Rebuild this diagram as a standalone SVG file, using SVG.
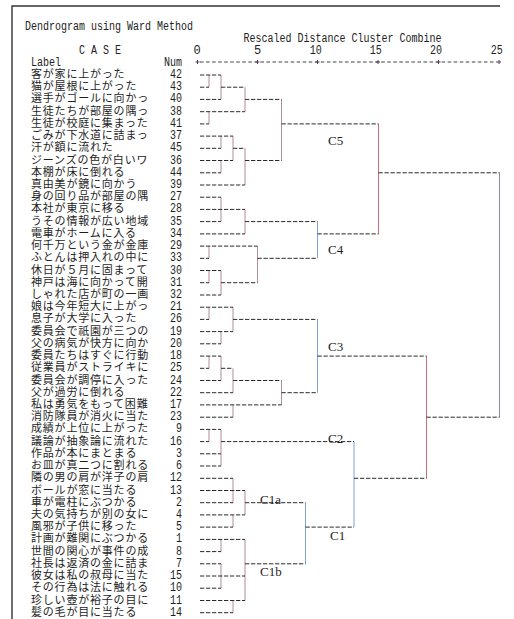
<svg xmlns="http://www.w3.org/2000/svg" width="514" height="619" viewBox="0 0 514 619">
<style>
.bg{fill:#ffffff}
.frame{stroke:#333;stroke-width:1.4;fill:none}
.hd{font-family:"Liberation Mono","DejaVu Sans Mono",monospace;font-size:12px;fill:#222}
.lb{font-family:"Noto Sans CJK JP","Noto Sans",sans-serif;font-size:11px;letter-spacing:0.8px;fill:#1e1e1e}
.nm{font-family:"Liberation Mono","DejaVu Sans Mono",monospace;font-size:12px;fill:#1e1e1e;text-anchor:end}
.cl{font-family:"Liberation Serif","Times New Roman",serif;font-size:13px;fill:#1e1e1e}
.h{stroke:#2a2a2a;stroke-width:1;stroke-dasharray:4.3 1.7;fill:none}
.v{stroke:#b08c94;stroke-width:1;fill:none}
.vp{stroke:#c9707a;stroke-width:1;fill:none}
.vb{stroke:#7fa4cf;stroke-width:1;fill:none}
.vu{stroke:#8a86b0;stroke-width:1;fill:none}
.ax{stroke:#444;stroke-width:1;stroke-dasharray:3.6 2.44;fill:none}
.tk{stroke:#5a3a5a;stroke-width:1;fill:none}
</style>
<rect class="bg" x="0" y="0" width="514" height="619"/>
<path class="frame" d="M12,619 V6 H500"/>

<g id="header">
<text class="hd" x="25" y="29.5" textLength="168" lengthAdjust="spacingAndGlyphs">Dendrogram using Ward Method</text>
<text class="hd" x="243.5" y="42" textLength="198" lengthAdjust="spacingAndGlyphs">Rescaled Distance Cluster Combine</text>
<text class="hd" x="79" y="54" textLength="42" lengthAdjust="spacingAndGlyphs">C A S E</text>
<text class="hd" x="31" y="66" textLength="30" lengthAdjust="spacingAndGlyphs">Label</text>
<text class="hd" x="182" y="66" text-anchor="end" textLength="18" lengthAdjust="spacingAndGlyphs">Num</text>
</g>

<g id="axis">
<text class="hd" x="197" y="54" text-anchor="middle">0</text>
<text class="hd" x="257.5" y="54" text-anchor="middle">5</text>
<text class="hd" x="315.7" y="54" text-anchor="middle" textLength="12" lengthAdjust="spacingAndGlyphs">10</text>
<text class="hd" x="375.7" y="54" text-anchor="middle" textLength="12" lengthAdjust="spacingAndGlyphs">15</text>
<text class="hd" x="436" y="54" text-anchor="middle" textLength="12" lengthAdjust="spacingAndGlyphs">20</text>
<text class="hd" x="496.7" y="54" text-anchor="middle" textLength="12" lengthAdjust="spacingAndGlyphs">25</text>
<path class="ax" d="M200,62 H497"/>
<path class="tk" d="M195.5,62 H199.5 M197.5,60 V64 M255.5,62 H259.5 M257.5,60 V64 M315.5,62 H319.5 M317.5,60 V64 M376,62 H380 M378,60 V64 M436.5,62 H440.5 M438.5,60 V64 M497,62 H501 M499,60 V64"/>
</g>

<g id="leaves">
<g id="n42"><text class="lb" x="31" y="78">客が家に上がった</text><text class="nm" x="182" y="78" textLength="12" lengthAdjust="spacingAndGlyphs">42</text></g>
<g id="n43"><text class="lb" x="31" y="90.2">猫が屋根に上がった</text><text class="nm" x="182" y="90.2" textLength="12" lengthAdjust="spacingAndGlyphs">43</text></g>
<g id="n40"><text class="lb" x="31" y="102.4">選手がゴールに向かっ</text><text class="nm" x="182" y="102.4" textLength="12" lengthAdjust="spacingAndGlyphs">40</text></g>
<g id="n38"><text class="lb" x="31" y="114.7">生徒たちが部屋の隅っ</text><text class="nm" x="182" y="114.7" textLength="12" lengthAdjust="spacingAndGlyphs">38</text></g>
<g id="n41"><text class="lb" x="31" y="126.9">生徒が校庭に集まった</text><text class="nm" x="182" y="126.9" textLength="12" lengthAdjust="spacingAndGlyphs">41</text></g>
<g id="n37"><text class="lb" x="31" y="139.1">ごみが下水道に詰まっ</text><text class="nm" x="182" y="139.1" textLength="12" lengthAdjust="spacingAndGlyphs">37</text></g>
<g id="n45"><text class="lb" x="31" y="151.3">汗が額に流れた</text><text class="nm" x="182" y="151.3" textLength="12" lengthAdjust="spacingAndGlyphs">45</text></g>
<g id="n36"><text class="lb" x="31" y="163.5">ジーンズの色が白いワ</text><text class="nm" x="182" y="163.5" textLength="12" lengthAdjust="spacingAndGlyphs">36</text></g>
<g id="n44"><text class="lb" x="31" y="175.8">本棚が床に倒れる</text><text class="nm" x="182" y="175.8" textLength="12" lengthAdjust="spacingAndGlyphs">44</text></g>
<g id="n39"><text class="lb" x="31" y="188">真由美が鏡に向かう</text><text class="nm" x="182" y="188" textLength="12" lengthAdjust="spacingAndGlyphs">39</text></g>
<g id="n27"><text class="lb" x="31" y="200.2">身の回り品が部屋の隅</text><text class="nm" x="182" y="200.2" textLength="12" lengthAdjust="spacingAndGlyphs">27</text></g>
<g id="n28"><text class="lb" x="31" y="212.4">本社が東京に移る</text><text class="nm" x="182" y="212.4" textLength="12" lengthAdjust="spacingAndGlyphs">28</text></g>
<g id="n35"><text class="lb" x="31" y="224.6">うその情報が広い地域</text><text class="nm" x="182" y="224.6" textLength="12" lengthAdjust="spacingAndGlyphs">35</text></g>
<g id="n34"><text class="lb" x="31" y="236.9">電車がホームに入る</text><text class="nm" x="182" y="236.9" textLength="12" lengthAdjust="spacingAndGlyphs">34</text></g>
<g id="n29"><text class="lb" x="31" y="249.1">何千万という金が金庫</text><text class="nm" x="182" y="249.1" textLength="12" lengthAdjust="spacingAndGlyphs">29</text></g>
<g id="n33"><text class="lb" x="31" y="261.3">ふとんは押入れの中に</text><text class="nm" x="182" y="261.3" textLength="12" lengthAdjust="spacingAndGlyphs">33</text></g>
<g id="n30"><text class="lb" x="31" y="273.5">休日が５月に固まって</text><text class="nm" x="182" y="273.5" textLength="12" lengthAdjust="spacingAndGlyphs">30</text></g>
<g id="n31"><text class="lb" x="31" y="285.7">神戸は海に向かって開</text><text class="nm" x="182" y="285.7" textLength="12" lengthAdjust="spacingAndGlyphs">31</text></g>
<g id="n32"><text class="lb" x="31" y="298">しゃれた店が町の一画</text><text class="nm" x="182" y="298" textLength="12" lengthAdjust="spacingAndGlyphs">32</text></g>
<g id="n21"><text class="lb" x="31" y="310.2">娘は今年短大に上がっ</text><text class="nm" x="182" y="310.2" textLength="12" lengthAdjust="spacingAndGlyphs">21</text></g>
<g id="n26"><text class="lb" x="31" y="322.4">息子が大学に入った</text><text class="nm" x="182" y="322.4" textLength="12" lengthAdjust="spacingAndGlyphs">26</text></g>
<g id="n19"><text class="lb" x="31" y="334.6">委員会で祇園が三つの</text><text class="nm" x="182" y="334.6" textLength="12" lengthAdjust="spacingAndGlyphs">19</text></g>
<g id="n20"><text class="lb" x="31" y="346.8">父の病気が快方に向か</text><text class="nm" x="182" y="346.8" textLength="12" lengthAdjust="spacingAndGlyphs">20</text></g>
<g id="n18"><text class="lb" x="31" y="359.1">委員たちはすぐに行動</text><text class="nm" x="182" y="359.1" textLength="12" lengthAdjust="spacingAndGlyphs">18</text></g>
<g id="n25"><text class="lb" x="31" y="371.3">従業員がストライキに</text><text class="nm" x="182" y="371.3" textLength="12" lengthAdjust="spacingAndGlyphs">25</text></g>
<g id="n24"><text class="lb" x="31" y="383.5">委員会が調停に入った</text><text class="nm" x="182" y="383.5" textLength="12" lengthAdjust="spacingAndGlyphs">24</text></g>
<g id="n22"><text class="lb" x="31" y="395.7">父が過労に倒れる</text><text class="nm" x="182" y="395.7" textLength="12" lengthAdjust="spacingAndGlyphs">22</text></g>
<g id="n17"><text class="lb" x="31" y="407.9">私は勇気をもって困難</text><text class="nm" x="182" y="407.9" textLength="12" lengthAdjust="spacingAndGlyphs">17</text></g>
<g id="n23"><text class="lb" x="31" y="420.2">消防隊員が消火に当た</text><text class="nm" x="182" y="420.2" textLength="12" lengthAdjust="spacingAndGlyphs">23</text></g>
<g id="n9"><text class="lb" x="31" y="432.4">成績が上位に上がった</text><text class="nm" x="182" y="432.4" textLength="6" lengthAdjust="spacingAndGlyphs">9</text></g>
<g id="n16"><text class="lb" x="31" y="444.6">議論が抽象論に流れた</text><text class="nm" x="182" y="444.6" textLength="12" lengthAdjust="spacingAndGlyphs">16</text></g>
<g id="n3"><text class="lb" x="31" y="456.8">作品が本にまとまる</text><text class="nm" x="182" y="456.8" textLength="6" lengthAdjust="spacingAndGlyphs">3</text></g>
<g id="n6"><text class="lb" x="31" y="469">お皿が真二つに割れる</text><text class="nm" x="182" y="469" textLength="6" lengthAdjust="spacingAndGlyphs">6</text></g>
<g id="n12"><text class="lb" x="31" y="481.3">隣の男の肩が洋子の肩</text><text class="nm" x="182" y="481.3" textLength="12" lengthAdjust="spacingAndGlyphs">12</text></g>
<g id="n13"><text class="lb" x="31" y="493.5">ボールが窓に当たる</text><text class="nm" x="182" y="493.5" textLength="12" lengthAdjust="spacingAndGlyphs">13</text></g>
<g id="n2"><text class="lb" x="31" y="505.7">車が電柱にぶつかる</text><text class="nm" x="182" y="505.7" textLength="6" lengthAdjust="spacingAndGlyphs">2</text></g>
<g id="n4"><text class="lb" x="31" y="517.9">夫の気持ちが別の女に</text><text class="nm" x="182" y="517.9" textLength="6" lengthAdjust="spacingAndGlyphs">4</text></g>
<g id="n5"><text class="lb" x="31" y="530.1">風邪が子供に移った</text><text class="nm" x="182" y="530.1" textLength="6" lengthAdjust="spacingAndGlyphs">5</text></g>
<g id="n1"><text class="lb" x="31" y="542.4">計画が難関にぶつかる</text><text class="nm" x="182" y="542.4" textLength="6" lengthAdjust="spacingAndGlyphs">1</text></g>
<g id="n8"><text class="lb" x="31" y="554.6">世間の関心が事件の成</text><text class="nm" x="182" y="554.6" textLength="6" lengthAdjust="spacingAndGlyphs">8</text></g>
<g id="n7"><text class="lb" x="31" y="566.8">社長は返済の金に詰ま</text><text class="nm" x="182" y="566.8" textLength="6" lengthAdjust="spacingAndGlyphs">7</text></g>
<g id="n15"><text class="lb" x="31" y="579">彼女は私の叔母に当た</text><text class="nm" x="182" y="579" textLength="12" lengthAdjust="spacingAndGlyphs">15</text></g>
<g id="n10"><text class="lb" x="31" y="591.2">その行為は法に触れる</text><text class="nm" x="182" y="591.2" textLength="12" lengthAdjust="spacingAndGlyphs">10</text></g>
<g id="n11"><text class="lb" x="31" y="603.5">珍しい壺が裕子の目に</text><text class="nm" x="182" y="603.5" textLength="12" lengthAdjust="spacingAndGlyphs">11</text></g>
<g id="n14"><text class="lb" x="31" y="615.7">髪の毛が目に当たる</text><text class="nm" x="182" y="615.7" textLength="12" lengthAdjust="spacingAndGlyphs">14</text></g>
</g>

<g id="connectors">
<path class="v" d="M209,75V87.2 M209,111.7V123.9 M209,246.1V258.3 M209,270.5V282.7 M209,307.2V319.4 M209,356.1V368.3 M209,429.4V441.6
M221,75V99.4 M221,136.1V148.3 M221,160.5V172.8 M221,197.2V221.6 M221,270.5V295 M221,331.6V343.8 M221,356.1V380.5 M221,429.4V466 M221,539.4V551.6 M221,563.8V588.2
M233,136.1V160.5 M233,307.2V331.6 M233,368.3V392.7 M233,404.9V417.2 M233,478.3V502.7 M233,514.9V527.1 M233,600.5V612.7
M245,87.2V111.7 M245,148.3V185 M245,209.4V233.9 M245,490.5V514.9 M245,539.4V600.5
M257.5,246.1V282.7 M281.5,99.4V160.5 M281.5,380.5V404.9"/>
<path class="vb" d="M305.5,502.7V563.8 M317.5,221.6V258.3 M317.5,319.4V392.7 M354,441.6V527.1"/>
<path class="vp" d="M378.5,123.9V233.9 M426.5,356.1V478.3"/>
<path class="vu" d="M499.5,172.8V417.2"/>
<path class="h" d="M200,75H221
M200,87.2H209 M221,87.2H245
M200,99.4H221 M245,99.4H281.5
M200,111.7H245
M200,123.9H209 M281.5,123.9H378.5
M200,136.1H233
M200,148.3H221 M233,148.3H245
M200,160.5H233 M245,160.5H281.5
M200,172.8H221 M378.5,172.8H499.5
M200,185H245
M200,197.2H221
M200,209.4H245
M200,221.6H221 M245,221.6H317.5
M200,233.9H245 M317.5,233.9H378.5
M200,246.1H257.5
M200,258.3H209 M257.5,258.3H317.5
M200,270.5H221
M200,282.7H209 M221,282.7H257.5
M200,295H221
M200,307.2H233
M200,319.4H209 M233,319.4H317.5
M200,331.6H233
M200,343.8H221
M200,356.1H221 M317.5,356.1H426.5
M200,368.3H209 M221,368.3H233
M200,380.5H221 M233,380.5H281.5
M200,392.7H233 M281.5,392.7H317.5
M200,404.9H281.5
M200,417.2H233 M426.5,417.2H499.5
M200,429.4H221
M200,441.6H209 M221,441.6H354
M200,453.8H221
M200,466H221
M200,478.3H233 M354,478.3H426.5
M200,490.5H245
M200,502.7H233 M245,502.7H305.5
M200,514.9H245
M200,527.1H233 M305.5,527.1H354
M200,539.4H245
M200,551.6H221
M200,563.8H221 M245,563.8H305.5
M200,576H245
M200,588.2H221
M200,600.5H245
M200,612.7H233"/>
</g>

<g id="cluster-labels">
<text class="cl" x="328" y="145">C5</text>
<text class="cl" x="328" y="254">C4</text>
<text class="cl" x="328" y="351">C3</text>
<text class="cl" x="328" y="443">C2</text>
<text class="cl" x="260" y="503.5">C1a</text>
<text class="cl" x="330" y="539.5">C1</text>
<text class="cl" x="260" y="576">C1b</text>
</g>
</svg>
